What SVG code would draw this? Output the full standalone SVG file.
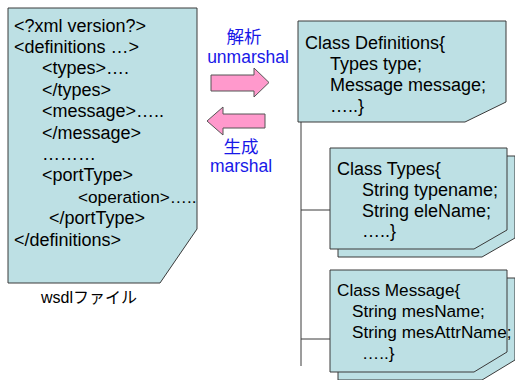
<svg xmlns="http://www.w3.org/2000/svg" width="515" height="380" viewBox="0 0 515 380">
  <style>
    .box { fill: #bde0e4; stroke: #3a3a3a; stroke-width: 1; }
    .shadow { fill: #bde0e4; stroke: #3a3a3a; stroke-width: 1; }
    .txt { font-family: "Liberation Sans", Arial, "Noto Sans CJK JP", sans-serif; font-size: 18px; fill: #000; }
    .sm { font-size: 17.2px; }
    .lbl { font-family: "Liberation Sans", Arial, "Noto Sans CJK JP", sans-serif; font-size: 16px; fill: #000; text-anchor: middle; }
    .blue { font-family: "Liberation Sans", Arial, "Noto Sans CJK JP", sans-serif; font-size: 17.5px; fill: #1818e8; text-anchor: middle; }
    .arrow { fill: #ff99cc; stroke: #555; stroke-width: 1; }
    .line { fill: none; stroke: #3a3a3a; stroke-width: 1; }
  </style>

  <!-- WSDL source document -->
  <g id="wsdl-file">
    <polygon class="box" points="8,8 197,8 197,229 160,283 8,283"/>
    <text class="txt" x="14" y="31.5">&lt;?xml version?&gt;</text>
    <text class="txt" x="14" y="52.9">&lt;definitions …&gt;</text>
    <text class="txt" x="42" y="74.3">&lt;types&gt;….</text>
    <text class="txt" x="42" y="95.7">&lt;/types&gt;</text>
    <text class="txt" x="42" y="117.1">&lt;message&gt;…..</text>
    <text class="txt" x="42" y="138.5">&lt;/message&gt;</text>
    <text class="txt" x="42" y="159.9">………</text>
    <text class="txt" x="42" y="181.3">&lt;portType&gt;</text>
    <text class="txt sm" x="78" y="202.7">&lt;operation&gt;…..</text>
    <text class="txt" x="49" y="224.1">&lt;/portType&gt;</text>
    <text class="txt" x="14" y="245.5">&lt;/definitions&gt;</text>
    <text class="lbl" x="89" y="303">wsdlファイル</text>
  </g>

  <!-- unmarshal / marshal direction arrows -->
  <g id="unmarshal">
    <text class="blue" x="244" y="43">解析</text>
    <text class="blue" x="248" y="63">unmarshal</text>
    <polygon class="arrow" points="211,75 254,75 254,68 269,82.5 254,97 254,91 211,91"/>
  </g>
  <g id="marshal">
    <polygon class="arrow" points="207,121 223,107 223,114 265,114 265,128 223,128 223,135"/>
    <text class="blue" x="241" y="153">生成</text>
    <text class="blue" x="241" y="172">marshal</text>
  </g>

  <!-- tree connectors -->
  <g id="connectors">
    <path class="line" d="M301,122 V366 M301,210 H330 M301,339 H330"/>
  </g>

  <!-- class Definitions -->
  <g id="class-definitions">
    <polygon class="box" points="298,21 506,21 506,102 465,122 298,122"/>
    <text class="txt" x="305" y="48.5">Class Definitions{</text>
    <text class="txt" x="330" y="69.5">Types type;</text>
    <text class="txt" x="330" y="90.5">Message message;</text>
    <text class="txt" x="330" y="112">…..}</text>
  </g>

  <!-- class Types -->
  <g id="class-types">
    <polygon class="shadow" points="338,156 515,156 515,238 482,257 338,257"/>
    <polygon class="box" points="330,148 507,148 507,230 474,249 330,249"/>
    <text class="txt" x="337" y="174.5">Class Types{</text>
    <text class="txt" x="362" y="195.5">String typename;</text>
    <text class="txt" x="362" y="216.5">String eleName;</text>
    <text class="txt" x="362" y="237">…..}</text>
  </g>

  <!-- class Message -->
  <g id="class-message">
    <polygon class="shadow" points="338,278 515,278 515,360 482,380 338,380"/>
    <polygon class="box" points="330,270 507,270 507,352 474,372 330,372"/>
    <text class="txt sm" x="337" y="295.5">Class Message{</text>
    <text class="txt sm" x="352" y="316.5">String mesName;</text>
    <text class="txt sm" x="352" y="337.5">String mesAttrName;</text>
    <text class="txt sm" x="362" y="358.5">…..}</text>
  </g>
</svg>
